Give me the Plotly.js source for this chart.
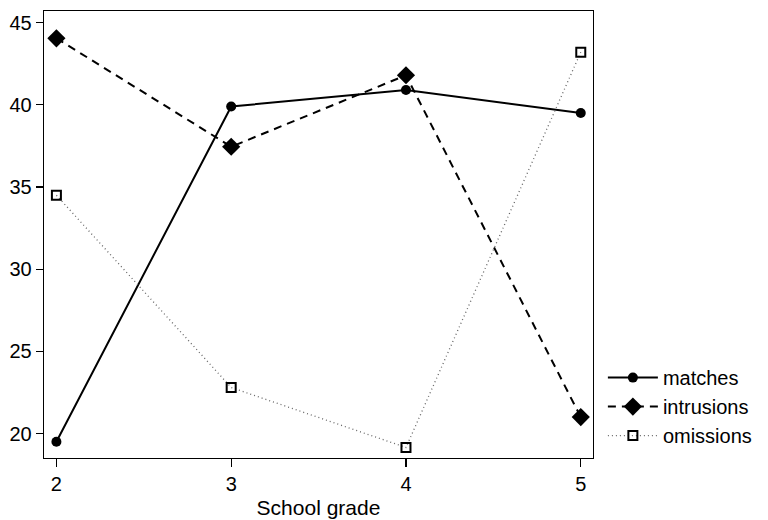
<!DOCTYPE html>
<html>
<head>
<meta charset="utf-8">
<script src="https://cdn.plot.ly/plotly-3.0.1.min.js"></script>
<style>html,body{margin:0;padding:0;background:#fff;}#chart{width:768px;height:520px;}</style>
</head>
<body>
<div id="chart"></div>
<script>
const grades = [2, 3, 4, 5];
const matches = [19.5, 39.9, 40.9, 39.5];
const intrusions = [44.05, 37.45, 41.8, 21.0];
const omissions = [34.5, 22.8, 19.15, 43.2];
const xTicks = [2, 3, 4, 5];
const yTicks = [20, 25, 30, 35, 40, 45];

const traces = [
  {x: grades, y: matches, name: 'matches', mode: 'lines+markers',
   line: {color: '#000', width: 2, dash: 'solid'},
   marker: {symbol: 'circle', size: 10, color: '#000'}},
  {x: grades, y: intrusions, name: 'intrusions', mode: 'lines+markers',
   line: {color: '#000', width: 2, dash: '8px,6px'},
   marker: {symbol: 'diamond', size: 14, color: '#000'}},
  {x: grades, y: omissions, name: 'omissions', mode: 'lines+markers',
   line: {color: '#666', width: 1.3, dash: '1px,3px'},
   marker: {symbol: 'square-open', size: 9, color: '#000', line: {width: 2, color: '#000'}}}
];

const layout = {
  width: 768, height: 520,
  margin: {l: 44, r: 164, t: 11, b: 61.5},
  paper_bgcolor: '#fff', plot_bgcolor: '#fff',
  font: {family: 'Liberation Sans, Arial, sans-serif', size: 20, color: '#000'},
  showlegend: true,
  legend: {x: 1.018, xanchor: 'left', y: 0.115, yanchor: 'middle',
           font: {size: 20}, tracegroupgap: 0, itemwidth: 50,
           bgcolor: 'rgba(0,0,0,0)'},
  xaxis: {range: [1.929, 5.07], tickvals: xTicks, ticktext: xTicks.map(String),
          showgrid: false, zeroline: false, showline: true, mirror: true,
          linecolor: '#000', linewidth: 1.3, ticks: 'outside', ticklen: 8,
          tickcolor: '#000', tickwidth: 1.2, tickfont: {size: 20},
          title: {text: 'School grade', font: {size: 21}, standoff: 6}},
  yaxis: {range: [18.51, 45.71], tickvals: yTicks, ticktext: yTicks.map(String),
          showgrid: false, zeroline: false, showline: true, mirror: true,
          linecolor: '#000', linewidth: 1.3, ticks: 'outside', ticklen: 7,
          tickcolor: '#000', tickwidth: 1.2, tickfont: {size: 20}}
};

Plotly.newPlot('chart', traces, layout, {displayModeBar: false, staticPlot: true});
</script>
</body>
</html>
